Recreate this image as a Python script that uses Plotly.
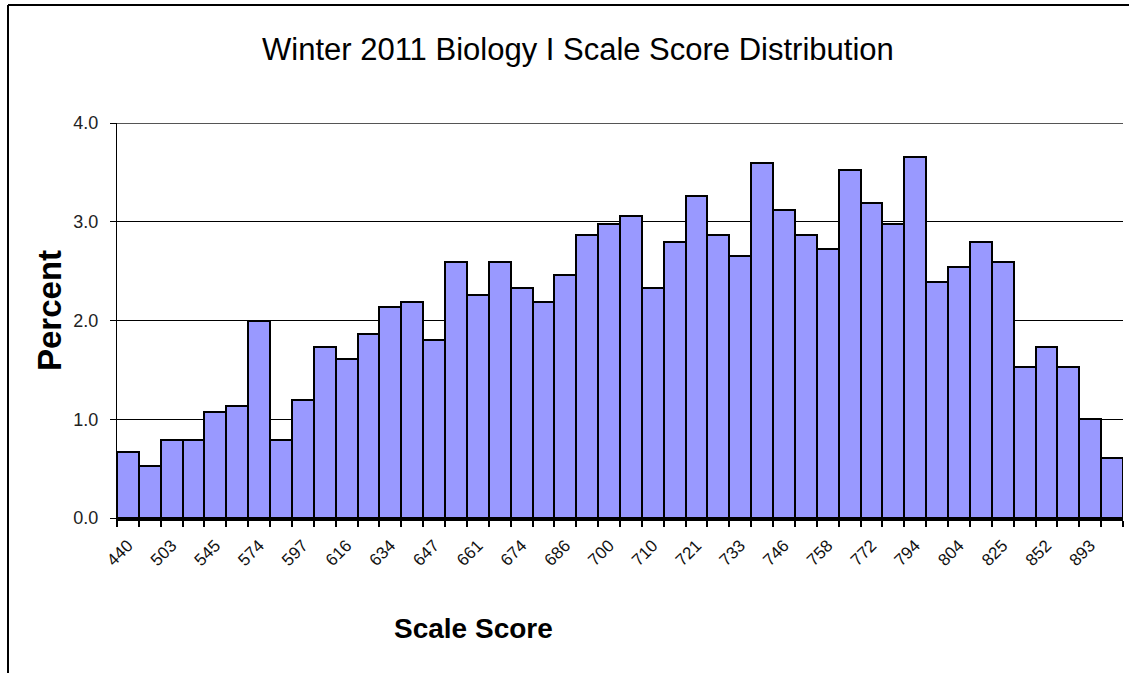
import plotly.graph_objects as go

# ---- data ----
tick_labels = ["440", "503", "545", "574", "597", "616", "634", "647", "661", "674", "686",
               "700", "710", "721", "733", "746", "758", "772", "794", "804", "825", "852", "893"]

percent = [0.67, 0.53, 0.79, 0.79, 1.07, 1.13, 1.99, 0.79, 1.19, 1.73,
           1.61, 1.86, 2.14, 2.19, 1.80, 2.59, 2.26, 2.59, 2.33, 2.19,
           2.46, 2.87, 2.98, 3.06, 2.33, 2.79, 3.26, 2.87, 2.65, 3.60,
           3.12, 2.87, 2.72, 3.52, 3.19, 2.98, 3.66, 2.39, 2.54, 2.79,
           2.59, 1.53, 1.73, 1.53, 1.00, 0.61]

y_ticks = [0, 1, 2, 3, 4]

title_text = "Winter 2011 Biology I Scale Score Distribution"
x_title = "Scale Score"
y_title = "Percent"

# ---- figure ----
W, H = 1129, 673
L, R, T, B = 117, 6, 123, 155
pw, ph = W - L - R, H - T - B

def px_x(px):
    return (px - L) / pw

def px_y(py):
    return (H - B - py) / ph

idx = list(range(len(percent)))
FONT = "Arial, Liberation Sans, sans-serif"

fig = go.Figure(go.Bar(
    x=idx, y=percent, width=1,
    marker=dict(color="#9999FF", line=dict(color="black", width=2)),
    hoverinfo="y",
))

fig.update_layout(
    width=W, height=H,
    margin=dict(l=L, r=R, t=T, b=B),
    paper_bgcolor="white", plot_bgcolor="white",
    bargap=0, showlegend=False,
    font=dict(family=FONT, color="black"),
    xaxis=dict(
        range=[-0.5, len(percent) - 0.5],
        tickmode="array", tickvals=idx[::2], ticktext=tick_labels,
        tickangle=-45, ticks="", showgrid=False, zeroline=False,
        ticklabelstandoff=8,
        tickfont=dict(family=FONT, size=17, color="#111"),
        showline=True, linecolor="black", linewidth=3,
        minor=dict(tickmode="linear", tick0=0.5, dtick=1, ticks="outside",
                   ticklen=6, tickwidth=2, tickcolor="black", showgrid=False),
    ),
    yaxis=dict(
        range=[0, 4], tickmode="array", tickvals=y_ticks, tickformat=".1f",
        ticks="outside", ticklen=6, tickcolor="black", tickwidth=1,
        ticklabelstandoff=8,
        tickfont=dict(family=FONT, size=18, color="#222"),
        showgrid=True, gridcolor="black", gridwidth=1,
        zeroline=False, showline=True, linecolor="black", linewidth=1,
    ),
    shapes=[
        # plot top line (gray) at 4.0
        dict(type="line", xref="paper", yref="y", x0=0, x1=1, y0=4, y1=4,
             line=dict(color="#555", width=2), layer="above"),
        # outer frame (left and top edges)
        dict(type="line", xref="paper", yref="paper", x0=px_x(8), x1=px_x(8),
             y0=px_y(5), y1=px_y(H + 5), line=dict(color="black", width=2)),
        dict(type="line", xref="paper", yref="paper", x0=px_x(8), x1=px_x(W + 5),
             y0=px_y(5), y1=px_y(5), line=dict(color="black", width=2)),
    ],
    annotations=[
        dict(text=title_text, xref="paper", yref="paper", x=px_x(578), y=px_y(50),
             showarrow=False, xanchor="center", yanchor="middle",
             font=dict(family=FONT, size=31, color="black")),
        dict(text="<b>" + x_title + "</b>", xref="paper", yref="paper",
             x=px_x(473), y=px_y(628), showarrow=False, xanchor="center", yanchor="middle",
             font=dict(family=FONT, size=28, color="black")),
        dict(text="<b>" + y_title + "</b>", xref="paper", yref="paper",
             x=px_x(49), y=px_y(311), showarrow=False, xanchor="center", yanchor="middle",
             textangle=-90, font=dict(family=FONT, size=33, color="black")),
    ],
)

fig.write_html("out.html", config={"displayModeBar": False})

# remove the default page margin so the figure sits at the window's origin
with open("out.html", "r", encoding="utf-8") as f:
    html = f.read()
html = html.replace("<body>", '<body style="margin:0;overflow:hidden">', 1)
with open("out.html", "w", encoding="utf-8") as f:
    f.write(html)
